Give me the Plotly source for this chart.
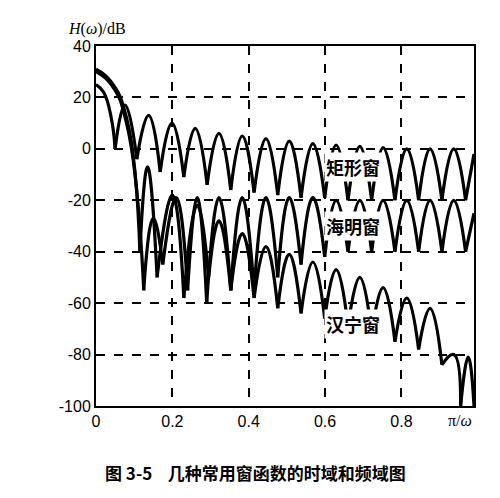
import plotly.graph_objects as go

rect_x = [0, 0.02, 0.04, 0.05, 0.076, 0.107, 0.138, 0.168, 0.199, 0.23, 0.26, 0.291, 0.322, 0.353, 0.383, 0.414, 0.445, 0.476, 0.506, 0.537, 0.568, 0.599, 0.629, 0.66, 0.691, 0.722, 0.752, 0.783, 0.814, 0.845, 0.875, 0.906, 0.937, 0.968, 0.99]
rect_y = [25, 22, 12, 0, 17, -4, 13, -9, 10, -11, 8, -14, 6, -16, 5, -17, 4, -18, 3, -19, 2, -19, 1.5, -20, 1, -20, 0.5, -20, 0, -20, 0, -20, 0, -20, -2]

hamm_x = [0, 0.04, 0.08, 0.125, 0.15, 0.175, 0.21, 0.24, 0.265, 0.29, 0.322, 0.353, 0.383, 0.414, 0.445, 0.476, 0.506, 0.537, 0.568, 0.599, 0.629, 0.66, 0.691, 0.722, 0.752, 0.783, 0.814, 0.845, 0.875, 0.906, 0.937, 0.968, 0.99]
hamm_y = [30, 25, 10, -55, -27, -45, -19, -55, -19, -60, -19, -55, -19, -55, -19, -50, -19, -45, -19, -42, -20, -40, -20, -40, -20, -40, -20, -40, -20, -40, -20, -40, -25]

hann_x = [0, 0.04, 0.08, 0.115, 0.135, 0.16, 0.2, 0.23, 0.265, 0.295, 0.322, 0.353, 0.383, 0.414, 0.445, 0.476, 0.506, 0.537, 0.568, 0.599, 0.629, 0.66, 0.691, 0.722, 0.752, 0.783, 0.814, 0.845, 0.875, 0.906, 0.937, 0.955, 0.975, 0.99]
hann_y = [31, 26, 12, -40, -7, -50, -18, -58, -22, -50, -28, -55, -33, -58, -38, -62, -41, -64, -44, -66, -47, -69, -50, -72, -54, -75, -58, -78, -62, -84, -80, -100, -81, -100]

x_ticks = [0, 0.2, 0.4, 0.6, 0.8]
y_ticks = [40, 20, 0, -20, -40, -60, -80, -100]

fig = go.Figure()
line = dict(color="black", width=3.2, shape="spline", smoothing=1.3)
for xs, ys in [(rect_x, rect_y), (hamm_x, hamm_y), (hann_x, hann_y)]:
    # main lobe: first 4 points
    fig.add_trace(go.Scatter(x=xs[:4], y=ys[:4], mode="lines", line=line, showlegend=False))
    # side lobes: null-peak-null triples drawn as separate arcs
    for i in range(3, len(xs) - 1, 2):
        fig.add_trace(go.Scatter(x=xs[i:i + 3], y=ys[i:i + 3], mode="lines", line=line, showlegend=False))

for txt, yy in [("矩形窗", -7), ("海明窗", -30), ("汉宁窗", -68)]:
    fig.add_annotation(x=0.672, y=yy, text="<b>" + txt + "</b>", showarrow=False, bgcolor="white", font=dict(family="Noto Sans CJK SC", size=18, color="black"))

fig.add_annotation(xref="paper", yref="paper", x=-0.02, y=1.0, yanchor="bottom", xanchor="right", text="<i>H</i>(<i>ω</i>)/dB", showarrow=False, font=dict(family="Liberation Serif", size=16, color="black"), xshift=40, yshift=6)
fig.add_annotation(xref="paper", yref="paper", x=1.0, y=0, yanchor="top", xanchor="right", text="π/<i>ω</i>", showarrow=False, font=dict(family="Liberation Serif", size=16, color="black"), yshift=-4)
fig.add_annotation(xref="paper", yref="paper", x=0.5, y=0, yanchor="top", text="<b>图 3-5    几种常用窗函数的时域和频域图</b>", showarrow=False, font=dict(family="Noto Sans CJK SC", size=17, color="black"), yshift=-52, xshift=-30)

axis = dict(showgrid=True, gridcolor="black", griddash="dash", gridwidth=1.5, showline=True, linecolor="black", linewidth=2, mirror=True, zeroline=False, ticks="", tickfont=dict(family="Liberation Sans", size=16, color="black"))
fig.update_xaxes(**axis, range=[0, 0.99], tickvals=x_ticks, ticktext=["0", "0.2", "0.4", "0.6", "0.8"])
fig.update_yaxes(**axis, range=[-100, 40], tickvals=y_ticks, ticktext=[str(v).replace("-", "-") for v in y_ticks])
fig.update_layout(width=500, height=498, margin=dict(l=88, r=34, t=38, b=100), plot_bgcolor="white", paper_bgcolor="white")
fig.write_html("out.html")
